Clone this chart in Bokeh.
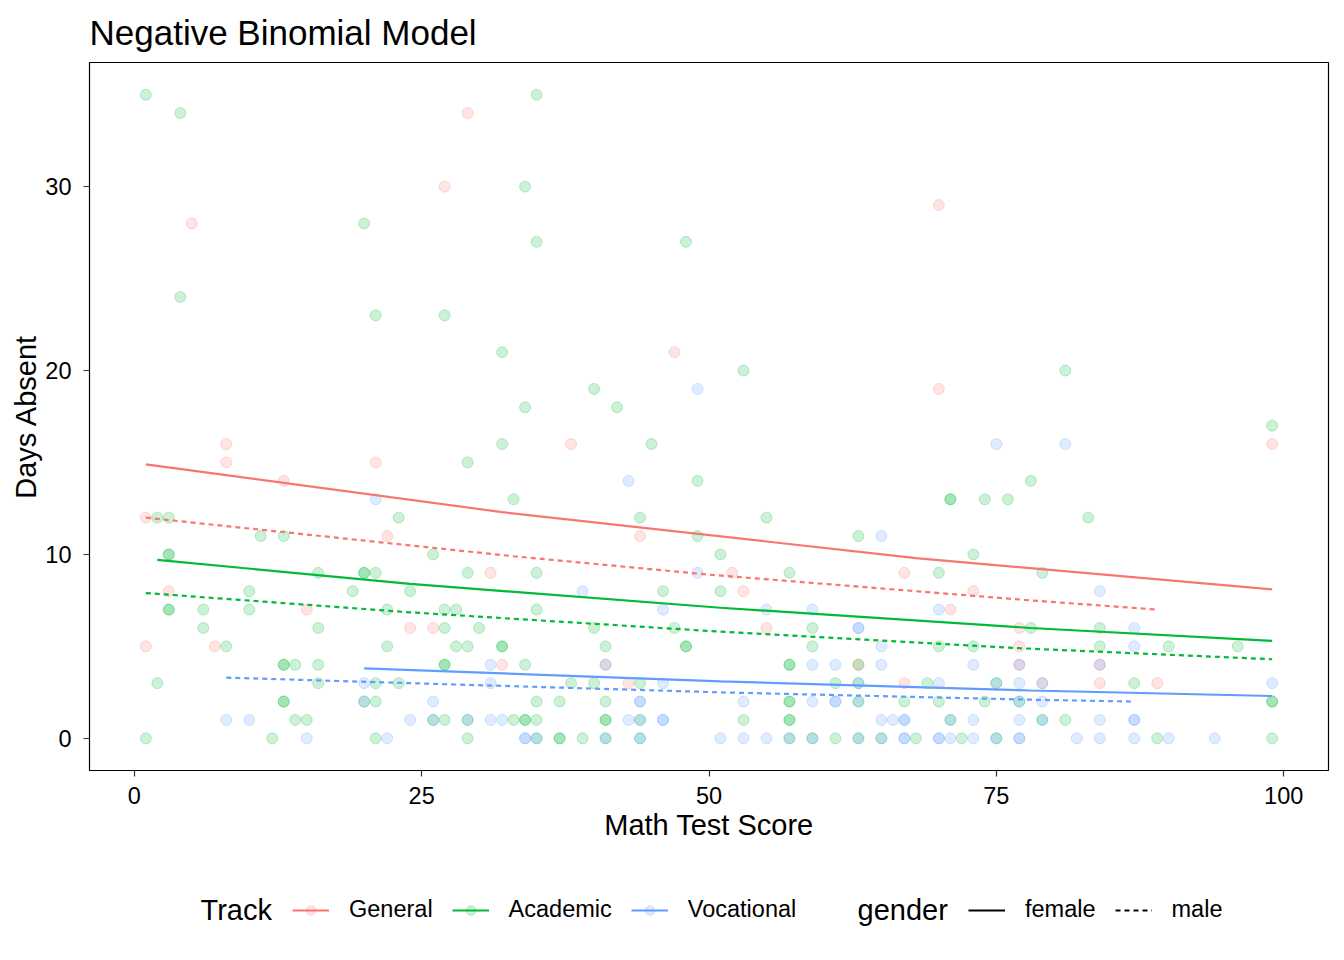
from bokeh.plotting import figure
from bokeh.layouts import column
from bokeh.models import Legend, LegendItem, ColumnDataSource, Range1d, FixedTicker, Label
from bokeh.embed import file_html
from bokeh.resources import INLINE

FONT = "Liberation Sans"

tracks = ["General", "Academic", "Vocational"]
track_colors = ["#F8766D", "#00BA38", "#619CFF"]
genders = ["female", "male"]
x_ticks = [0, 25, 50, 75, 100]
y_ticks = [0, 10, 20, 30]

# observed points: math score, days absent
general_math = [1, 1, 3, 5, 7, 8, 8, 13, 15, 21, 22, 24, 26, 27, 29, 31, 32, 38, 41, 43,
                44, 47, 52, 53, 55, 63, 67, 67, 70, 70, 71, 73, 77, 77, 77, 79, 84, 84, 89, 99]
general_days = [12, 5, 8, 28, 5, 16, 15, 14, 7, 15, 11, 6, 6, 30, 34, 9, 4, 16, 4, 3,
                11, 21, 9, 8, 6, 4, 9, 3, 29, 19, 7, 8, 6, 5, 4, 3, 4, 3, 3, 16]

academic_math = [1, 4, 4, 20, 21, 27, 34, 35, 35, 48, 32, 34, 32, 40, 42, 45, 53, 49, 29, 33,
                 23, 44, 55, 81, 99, 78, 74, 76, 71, 71, 83, 2, 3, 11, 13, 49, 63, 51, 26, 73,
                 3, 3,
                 16, 20, 20, 21, 10, 19, 24, 3, 3, 6, 10, 22, 6, 16, 8, 22, 13, 13, 14, 16,
                 2, 16, 21, 23, 13, 13, 20, 21, 14, 15, 1, 12, 21,
                 29, 35, 46, 51, 27, 28, 35, 27, 30, 40, 47, 28, 29, 32, 32, 41, 48, 48, 27, 27,
                 34, 38, 40, 44, 35, 37, 41, 26, 27, 29, 33, 34, 34, 35, 41, 41, 44, 29, 35, 37,
                 37, 39, 41, 44,
                 57, 70, 59, 59, 70, 73, 57, 57, 63, 61, 63, 69, 75, 57, 57, 63, 67, 70, 74, 77,
                 53, 57, 57, 71, 57, 59, 61, 63, 65, 68, 72, 75,
                 79, 78, 84, 84, 90, 96, 87, 99, 99, 79, 81, 89, 99]
academic_days = [35, 34, 24, 28, 23, 23, 30, 35, 27, 27, 21, 18, 16, 19, 18, 16, 20, 14, 15, 13,
                 12, 12, 12, 20, 17, 14, 13, 13, 13, 13, 12, 12, 12, 11, 11, 11, 11, 10, 10, 10,
                 10, 10,
                 9, 9, 9, 9, 8, 8, 8, 7, 7, 7, 7, 7, 6, 6, 5, 5, 4, 4, 4, 4,
                 3, 3, 3, 3, 2, 2, 2, 2, 1, 1, 0, 0, 0,
                 9, 9, 8, 8, 7, 7, 7, 6, 6, 6, 6, 5, 5, 5, 5, 5, 5, 5, 4, 4,
                 4, 3, 3, 3, 2, 2, 2, 1, 1, 1, 1, 1, 1, 1, 1, 1, 1, 0, 0, 0,
                 0, 0, 0, 0,
                 9, 9, 6, 5, 5, 5, 4, 4, 4, 3, 3, 3, 3, 2, 2, 2, 2, 2, 2, 2,
                 1, 1, 1, 1, 0, 0, 0, 0, 0, 0, 0, 0,
                 9, 6, 6, 5, 5, 5, 3, 2, 2, 1, 1, 0, 0]

vocational_math = [49, 75, 81, 43, 21, 65,
                   20, 20, 8, 10, 24, 15, 22,
                   49, 39, 46, 31, 41, 31, 46, 26, 44, 44, 26, 29, 31, 32, 43, 44, 46, 46,
                   34, 34, 35, 41, 44,
                   55, 59, 70, 63, 63, 65, 59, 61, 65, 73, 63, 70, 75, 53, 59, 61, 61, 63,
                   65, 66, 67, 67, 71, 73, 51, 53, 55, 57, 59, 63, 65, 67, 67, 70, 70, 71, 73, 75,
                   84, 87, 87, 77, 84, 77, 79, 99, 77, 79, 77, 79, 84, 87, 87, 77, 77, 82, 84, 87,
                   90, 94]
vocational_days = [19, 16, 16, 14, 13, 11,
                   3, 2, 1, 1, 1, 0, 0,
                   9, 8, 7, 4, 4, 3, 3, 2, 2, 2, 1, 1, 1, 1, 1, 1, 1, 1,
                   0, 0, 0, 0, 0,
                   7, 7, 7, 6, 6, 5, 4, 4, 4, 4, 3, 3, 3, 2, 2, 2, 2, 2,
                   1, 1, 1, 1, 1, 1, 0, 0, 0, 0, 0, 0, 0, 0, 0, 0, 0, 0, 0, 0,
                   8, 6, 5, 4, 4, 3, 3, 3, 2, 2, 1, 1, 1, 1, 1, 0, 0, 0, 0, 0,
                   0, 0]

# fitted (predicted) curves
general_female_x = [1, 32, 68, 99]
general_female_y = [14.9, 12.3, 9.8, 8.1]
general_male_x = [1, 33, 50, 78, 89]
general_male_y = [12.0, 9.9, 8.9, 7.5, 7.0]
academic_female_x = [2, 24, 51, 78, 99]
academic_female_y = [9.7, 8.4, 7.1, 6.0, 5.3]
academic_male_x = [1, 24, 51, 77, 99]
academic_male_y = [7.9, 6.85, 5.8, 4.9, 4.3]
vocational_female_x = [20, 51, 78, 99]
vocational_female_y = [3.8, 3.1, 2.6, 2.3]
vocational_male_x = [8, 24, 51, 78, 87]
vocational_male_y = [3.3, 3.0, 2.5, 2.1, 2.0]

points = [(general_math, general_days), (academic_math, academic_days),
          (vocational_math, vocational_days)]
fits = [((general_female_x, general_female_y), (general_male_x, general_male_y)),
        ((academic_female_x, academic_female_y), (academic_male_x, academic_male_y)),
        ((vocational_female_x, vocational_female_y), (vocational_male_x, vocational_male_y))]

DASH = "5 4"
LW = 2.2
PT_SIZE = 11

# frame edges of the main plot, in page pixels
FR_L, FR_R, FR_T, FR_B = 89, 1328, 62, 770
W, H_MAIN, H_LEG = 1344, 870, 90

# ---------------- main plot ----------------
p = figure(width=W, height=H_MAIN, output_backend="svg", toolbar_location=None,
           x_range=Range1d(-3.9, 103.9), y_range=Range1d(-1.75, 36.75),
           min_border_left=FR_L, min_border_right=W - FR_R, min_border_top=FR_T,
           min_border_bottom=H_MAIN - FR_B,
           title="Negative Binomial Model")

p.title.text_font = FONT
p.title.text_font_size = "35px"
p.title.text_font_style = "normal"
p.title.text_color = "black"
p.title.align = "left"
p.title.standoff = 21

p.xgrid.visible = False
p.ygrid.visible = False
p.outline_line_color = "black"
p.outline_line_width = 1.2
p.background_fill_color = "white"
p.border_fill_color = "white"

for ax in (p.xaxis[0], p.yaxis[0]):
    ax.axis_line_color = None
    ax.major_tick_line_color = "#333333"
    ax.major_tick_line_width = 1.2
    ax.major_tick_in = 0
    ax.major_tick_out = 6
    ax.minor_tick_line_color = None
    ax.major_label_text_font = FONT
    ax.major_label_text_font_size = "23.5px"
    ax.major_label_text_color = "black"
    ax.axis_label_text_font = FONT
    ax.axis_label_text_font_size = "29px"
    ax.axis_label_text_font_style = "normal"
    ax.axis_label_text_color = "black"

p.xaxis[0].ticker = FixedTicker(ticks=x_ticks)
p.yaxis[0].ticker = FixedTicker(ticks=y_ticks)
p.xaxis[0].axis_label = "Math Test Score"
p.yaxis[0].axis_label = "Days Absent"
p.xaxis[0].major_label_standoff = 10
p.xaxis[0].axis_label_standoff = 2
p.yaxis[0].major_label_standoff = 12
p.yaxis[0].axis_label_standoff = 0

for (mx, dy), col in zip(points, track_colors):
    src = ColumnDataSource(data=dict(x=mx, y=dy))
    p.scatter("x", "y", source=src, size=PT_SIZE, fill_color=col, fill_alpha=0.2,
              line_color=col, line_alpha=0.25, line_width=1)

for (fem, mal), col in zip(fits, track_colors):
    p.line(fem[0], fem[1], line_color=col, line_width=LW)
    p.line(mal[0], mal[1], line_color=col, line_width=LW, line_dash=DASH)

# ---------------- legend strip (its frame is aligned with the main frame) ----------------
lg_fig = figure(width=W, height=H_LEG, output_backend="svg", toolbar_location=None,
                x_range=Range1d(FR_L, FR_R), y_range=Range1d(0, H_LEG),
                min_border_left=FR_L, min_border_right=W - FR_R,
                min_border_top=0, min_border_bottom=0)
lg_fig.axis.visible = False
lg_fig.xgrid.visible = False
lg_fig.ygrid.visible = False
lg_fig.outline_line_color = None
lg_fig.border_fill_color = "white"
lg_fig.background_fill_color = "white"

# off-screen proxy renderers so that the legend keys are drawn
proxy = ColumnDataSource(data=dict(x=[-500, -400], y=[-500, -500]))
track_items = []
for t, col in zip(tracks, track_colors):
    rl = lg_fig.line("x", "y", source=proxy, line_color=col, line_width=LW)
    rs = lg_fig.scatter("x", "y", source=proxy, size=PT_SIZE, fill_color=col, fill_alpha=0.2,
                        line_color=col, line_alpha=0.25, line_width=1)
    track_items.append(LegendItem(label=t, renderers=[rl, rs]))

g_solid = lg_fig.line("x", "y", source=proxy, line_color="black", line_width=LW)
g_dash = lg_fig.line("x", "y", source=proxy, line_color="black", line_width=LW, line_dash=DASH)
gender_items = [LegendItem(label=genders[0], renderers=[g_solid]),
                LegendItem(label=genders[1], renderers=[g_dash])]


def style_legend(lg):
    lg.orientation = "horizontal"
    lg.label_text_font = FONT
    lg.label_text_font_size = "23.5px"
    lg.label_text_color = "black"
    lg.label_standoff = 20
    lg.glyph_width = 37
    lg.glyph_height = 24
    lg.label_height = 24
    lg.spacing = 19
    lg.padding = 0
    lg.margin = 0
    lg.border_line_color = None
    lg.background_fill_alpha = 0


LEG_MID = 51  # vertical centre of the legend row, from the bottom of the strip
leg_track = Legend(items=track_items, location=(292 - FR_L, LEG_MID - 14))
style_legend(leg_track)
leg_gender = Legend(items=gender_items, location=(968 - FR_L, LEG_MID - 14))
style_legend(leg_gender)
lg_fig.add_layout(leg_track)
lg_fig.add_layout(leg_gender)

for txt, xpos in (("Track", 200), ("gender", 857)):
    lg_fig.add_layout(Label(x=xpos, y=LEG_MID, text=txt, text_font=FONT, text_font_size="29px",
                            text_color="black", text_baseline="middle", text_align="left"))

layout = column(p, lg_fig, spacing=0)
open("out.html", "w").write(file_html(layout, INLINE))
